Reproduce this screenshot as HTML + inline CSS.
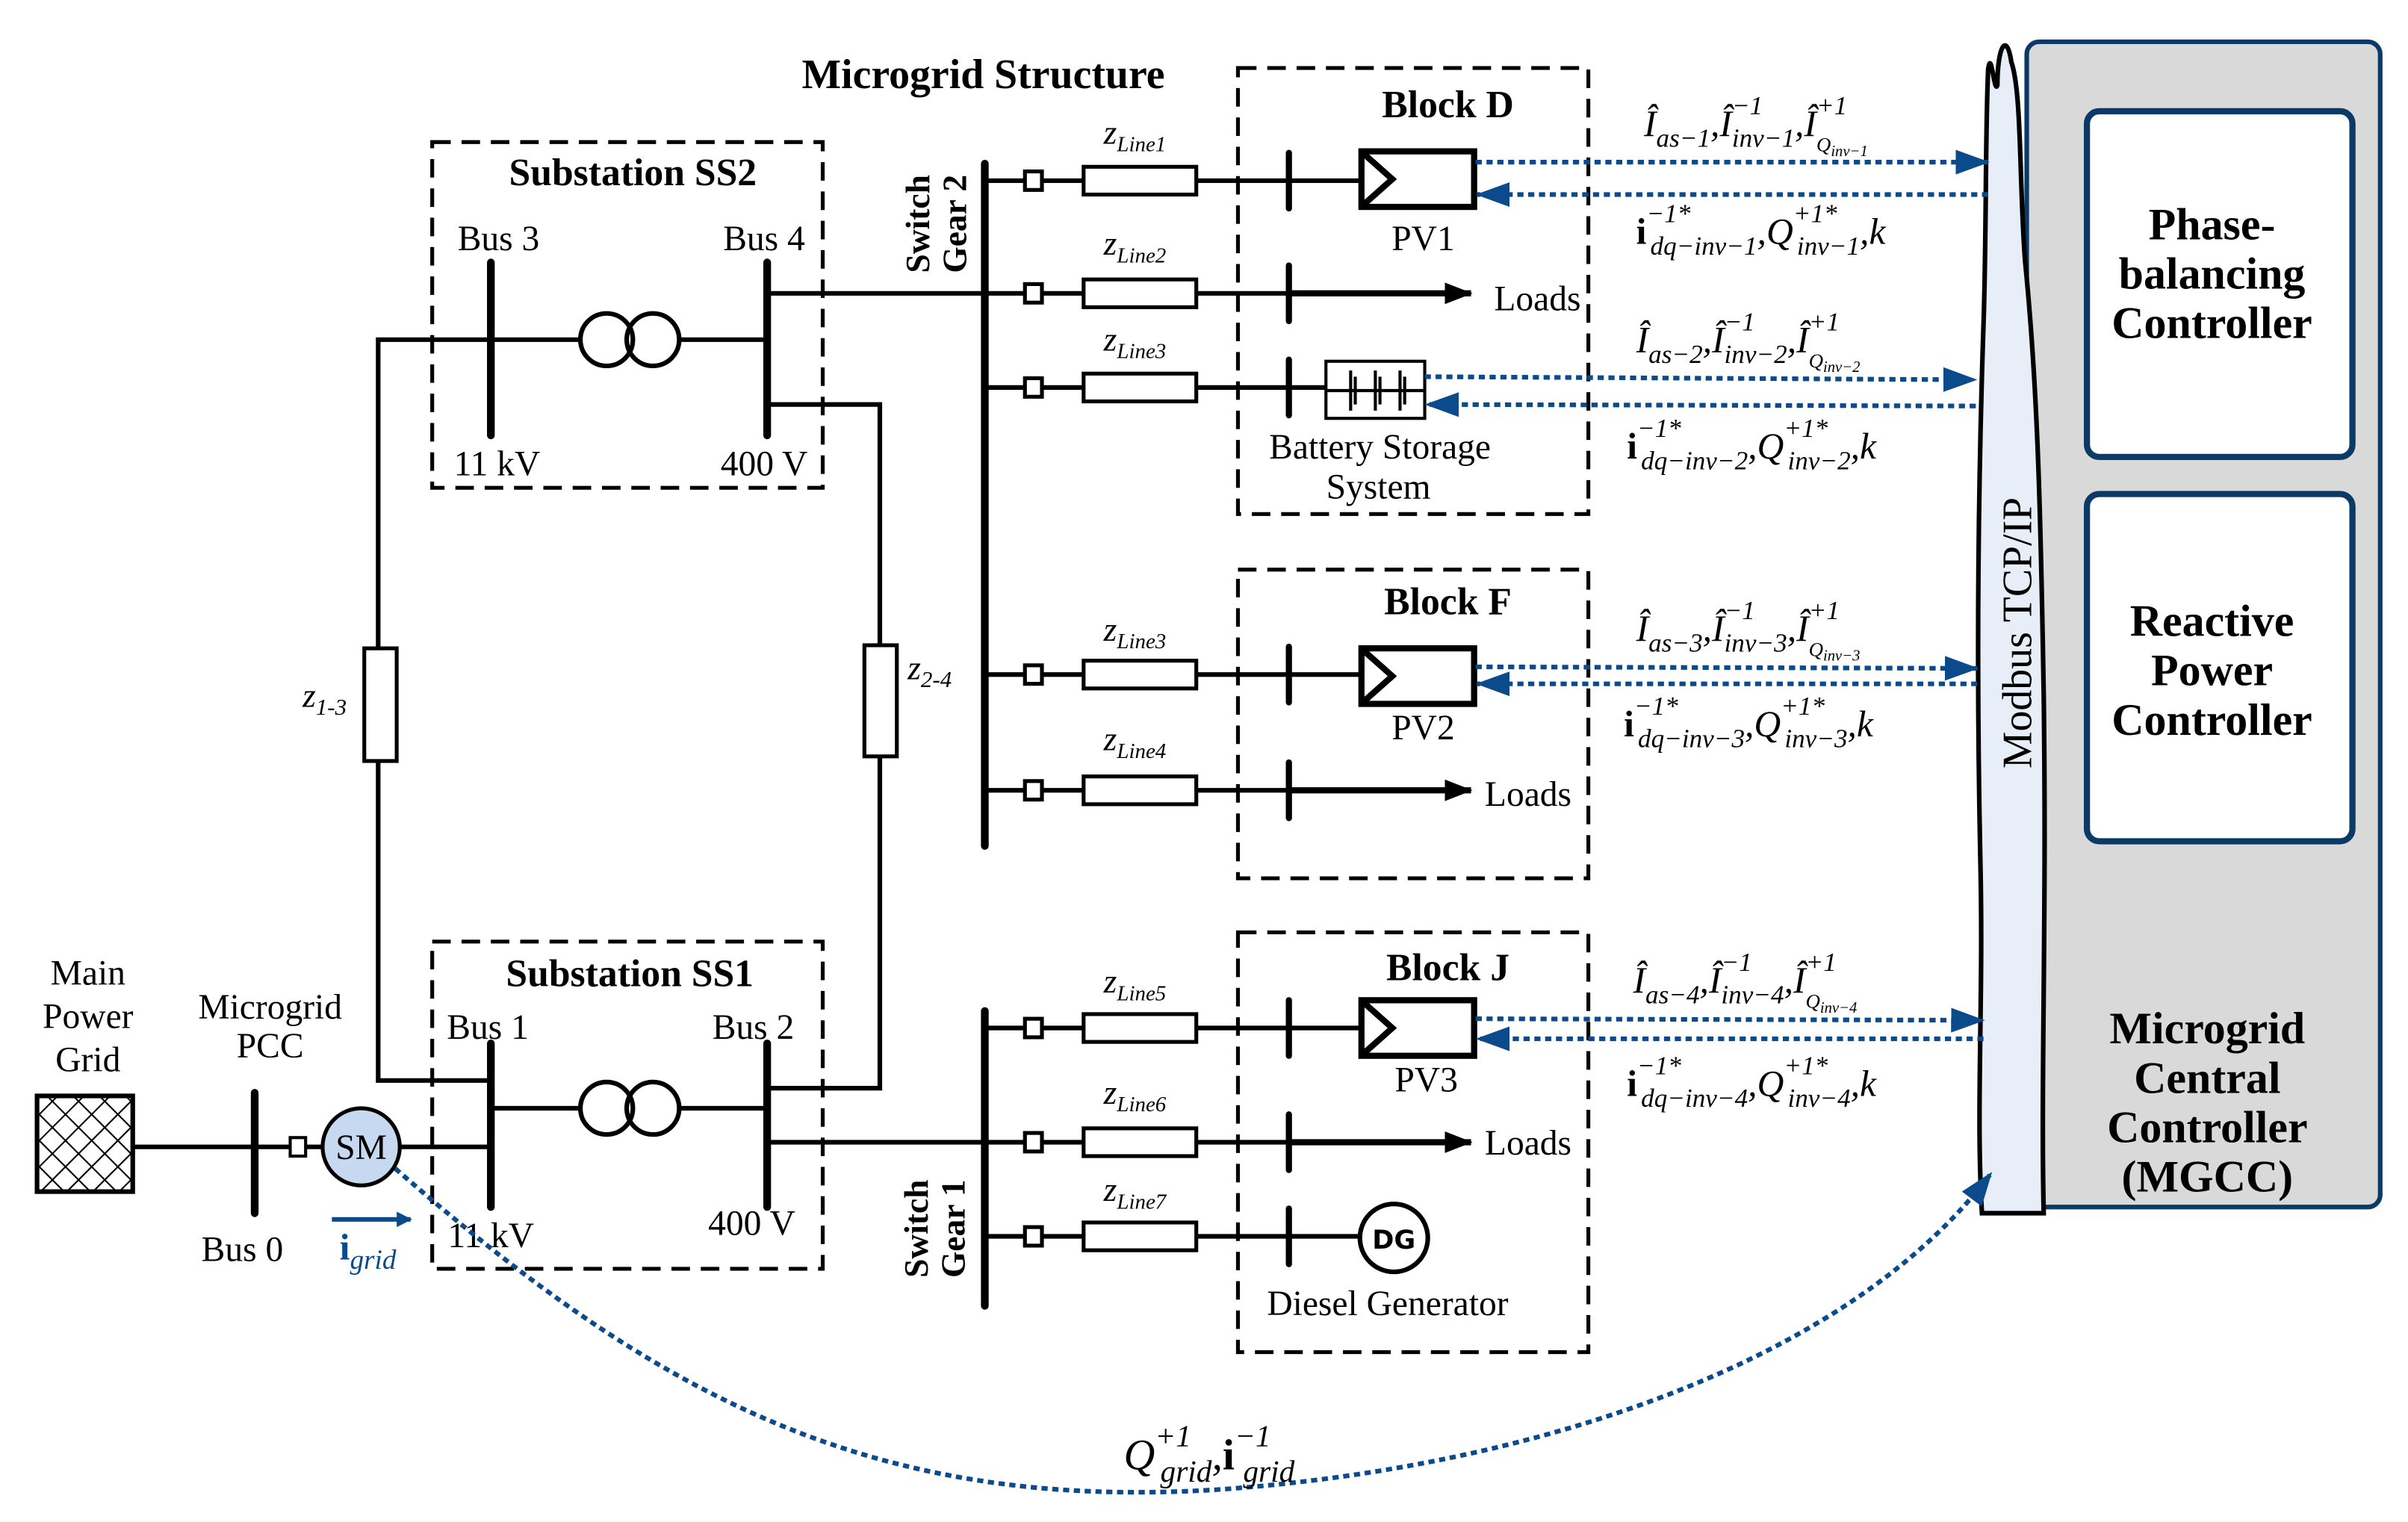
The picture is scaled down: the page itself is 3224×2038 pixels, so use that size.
<!DOCTYPE html>
<html><head><meta charset="utf-8"><style>
html,body{margin:0;padding:0;background:#fff}
svg{display:block}
text{font-family:"Liberation Serif",serif;fill:#000}
.t{font-size:23px}
.bt{font-size:25px;font-weight:bold}
.b{fill:#0b4a8b;font-style:italic;font-size:24px}
.z{font-style:italic;font-size:22px}
</style></head><body>
<svg width="3224" height="2038" viewBox="0 0 1560 986" xmlns="http://www.w3.org/2000/svg">
<defs>
<pattern id="h" width="12" height="12" patternUnits="userSpaceOnUse" patternTransform="rotate(45)">
<line x1="0" y1="0" x2="0" y2="12" stroke="#000" stroke-width="2"/><line x1="0" y1="0" x2="12" y2="0" stroke="#000" stroke-width="2"/></pattern>
<marker id="ab" markerWidth="10" markerHeight="10" refX="9" refY="5" orient="auto" markerUnits="userSpaceOnUse"><path d="M0,0 L10,5 L0,10 Z" fill="#0b4a8b"/></marker>
<marker id="ak" markerWidth="18" markerHeight="14" refX="17" refY="7" orient="auto" markerUnits="userSpaceOnUse"><path d="M0,0 L18,7 L0,14 Z" fill="#000"/></marker>
<marker id="abl" markerWidth="22" markerHeight="16" refX="21" refY="8" orient="auto" markerUnits="userSpaceOnUse"><path d="M0,0 L22,8 L0,16 Z" fill="#0b4a8b"/></marker>
</defs>

<!-- MGCC panel + cloud -->
<rect x="1313" y="27" width="229" height="755" rx="8" fill="#d9d9d9" stroke="#0b3a66" stroke-width="3"/>
<path d="M1303,40 C1300,20 1294,30 1294,55 C1292,62 1290,30 1288,45 C1286,90 1287,150 1285,210 C1282,300 1280,420 1283,560 C1285,650 1280,720 1284,786 L1324,786 C1322,700 1326,600 1324,450 C1322,330 1320,250 1312,170 C1308,120 1310,60 1303,40 Z" fill="#e8eef7" stroke="#000" stroke-width="3"/>
<rect x="1352" y="72" width="172" height="224" rx="8" fill="#fff" stroke="#0b3a66" stroke-width="4"/>
<rect x="1352" y="320" width="172" height="225" rx="8" fill="#fff" stroke="#0b3a66" stroke-width="4"/>
<g class="bt" text-anchor="middle" style="font-size:29px">
<text x="1433" y="155">Phase-</text><text x="1433" y="187">balancing</text><text x="1433" y="219">Controller</text>
<text x="1433" y="412">Reactive</text><text x="1433" y="444">Power</text><text x="1433" y="476">Controller</text>
<text x="1430" y="676">Microgrid</text><text x="1430" y="708">Central</text><text x="1430" y="740">Controller</text><text x="1430" y="772">(MGCC)</text>
</g>
<text x="0" y="0" transform="translate(1316,410) rotate(-90)" text-anchor="middle" style="font-size:27px">Modbus TCP/IP</text>

<!-- titles -->
<text x="637" y="57" text-anchor="middle" class="bt" style="font-size:27px">Microgrid Structure</text>

<!-- dashed boxes -->
<g fill="none" stroke="#000" stroke-width="2.5" stroke-dasharray="12,7">
<rect x="280" y="92" width="253" height="224"/>
<rect x="280" y="610" width="253" height="212"/>
<rect x="802" y="44" width="227" height="289"/>
<rect x="802" y="369" width="227" height="200"/>
<rect x="802" y="604" width="227" height="272"/>
</g>
<g class="bt" text-anchor="middle">
<text x="410" y="120">Substation SS2</text>
<text x="408" y="639">Substation SS1</text>
<text x="938" y="76">Block D</text>
<text x="938" y="398">Block F</text>
<text x="938" y="635">Block J</text>
</g>

<!-- lines -->
<g stroke="#000" stroke-width="3" fill="none">
<polyline points="318,220 245,220 245,420"/>
<polyline points="245,493 245,700 318,700"/>
<polyline points="497,262 570,262 570,418"/>
<polyline points="570,490 570,705 497,705"/>
<line x1="318" y1="220" x2="376" y2="220"/><line x1="440" y1="220" x2="497" y2="220"/>
<line x1="318" y1="718" x2="376" y2="718"/><line x1="440" y1="718" x2="497" y2="718"/>
<line x1="497" y1="190" x2="638" y2="190"/>
<line x1="497" y1="740" x2="638" y2="740"/>
<line x1="86" y1="743" x2="318" y2="743"/>
<circle cx="393" cy="220" r="17"/><circle cx="423" cy="220" r="17"/>
<circle cx="393" cy="718" r="17"/><circle cx="423" cy="718" r="17"/>
</g>
<rect x="236" y="420" width="21" height="73" fill="#fff" stroke="#000" stroke-width="2.5"/>
<rect x="560" y="418" width="21" height="72" fill="#fff" stroke="#000" stroke-width="2.5"/>
<g stroke="#000" stroke-width="5" stroke-linecap="round">
<line x1="318" y1="170" x2="318" y2="282"/><line x1="497" y1="170" x2="497" y2="282"/>
<line x1="318" y1="676" x2="318" y2="782"/><line x1="497" y1="676" x2="497" y2="782"/>
<line x1="638" y1="106" x2="638" y2="548"/><line x1="638" y1="655" x2="638" y2="846"/>
<line x1="165" y1="708" x2="165" y2="786"/>
</g>
<g class="t" text-anchor="middle">
<text x="323" y="162">Bus 3</text><text x="495" y="162">Bus 4</text>
<text x="322" y="308">11 kV</text><text x="495" y="308">400 V</text>
<text x="316" y="673">Bus 1</text><text x="488" y="673">Bus 2</text>
<text x="318" y="808">11 kV</text><text x="487" y="800">400 V</text>
<text x="57" y="638">Main</text><text x="57" y="666">Power</text><text x="57" y="694">Grid</text>
<text x="175" y="660">Microgrid</text><text x="175" y="685">PCC</text>
<text x="157" y="817">Bus 0</text>
</g>
<text x="196" y="458" class="z">z<tspan font-size="15" dy="5">1-3</tspan></text>
<text x="588" y="440" class="z">z<tspan font-size="15" dy="5">2-4</tspan></text>

<rect x="24" y="710" width="62" height="62" fill="url(#h)" stroke="#000" stroke-width="3"/>
<rect x="188" y="737" width="10" height="12" fill="#fff" stroke="#000" stroke-width="2"/>
<circle cx="234" cy="743" r="25" fill="#c6d9f0" stroke="#000" stroke-width="2.5"/>
<text x="234" y="751" text-anchor="middle" class="t">SM</text>
<line x1="215" y1="790" x2="266" y2="790" stroke="#0b4a8b" stroke-width="3" marker-end="url(#ab)"/>
<text x="220" y="816" class="b" style="font-weight:bold;font-style:normal">i<tspan font-size="18" font-style="italic" font-weight="normal" dy="6">grid</tspan></text>

<!-- switch gear labels -->
<g class="bt" style="font-size:22px" text-anchor="middle">
<text transform="translate(602,145) rotate(-90)">Switch</text>
<text transform="translate(626,145) rotate(-90)">Gear 2</text>
<text transform="translate(601,796) rotate(-90)">Switch</text>
<text transform="translate(625,796) rotate(-90)">Gear 1</text>
</g>

<!-- feeders -->
<g>
<g stroke="#000" stroke-width="3">
<line x1="638" y1="117" x2="882" y2="117"/>
<line x1="638" y1="190" x2="835" y2="190"/>
<line x1="638" y1="251" x2="859" y2="251"/>
<line x1="638" y1="437" x2="882" y2="437"/>
<line x1="638" y1="512" x2="835" y2="512"/>
<line x1="638" y1="666" x2="882" y2="666"/>
<line x1="638" y1="740" x2="835" y2="740"/>
<line x1="638" y1="801" x2="881" y2="801"/>
<line x1="835" y1="190" x2="953" y2="190" stroke-width="4" marker-end="url(#ak)"/>
<line x1="835" y1="512" x2="953" y2="512" stroke-width="4" marker-end="url(#ak)"/>
<line x1="835" y1="740" x2="953" y2="740" stroke-width="4" marker-end="url(#ak)"/>
</g>
<g fill="#fff" stroke="#000" stroke-width="2.5">
<rect x="664" y="111" width="11" height="12"/><rect x="702" y="108" width="73" height="18"/>
<rect x="664" y="184" width="11" height="12"/><rect x="702" y="181" width="73" height="18"/>
<rect x="664" y="245" width="11" height="12"/><rect x="702" y="242" width="73" height="18"/>
<rect x="664" y="431" width="11" height="12"/><rect x="702" y="428" width="73" height="18"/>
<rect x="664" y="506" width="11" height="12"/><rect x="702" y="503" width="73" height="18"/>
<rect x="664" y="660" width="11" height="12"/><rect x="702" y="657" width="73" height="18"/>
<rect x="664" y="734" width="11" height="12"/><rect x="702" y="731" width="73" height="18"/>
<rect x="664" y="795" width="11" height="12"/><rect x="702" y="792" width="73" height="18"/>
</g>
<g stroke="#000" stroke-width="4" stroke-linecap="round">
<line x1="835" y1="99" x2="835" y2="135"/><line x1="835" y1="172" x2="835" y2="208"/>
<line x1="835" y1="233" x2="835" y2="269"/><line x1="835" y1="419" x2="835" y2="455"/>
<line x1="835" y1="494" x2="835" y2="530"/><line x1="835" y1="648" x2="835" y2="684"/>
<line x1="835" y1="722" x2="835" y2="758"/><line x1="835" y1="783" x2="835" y2="819"/>
</g>
<g class="z">
<text x="715" y="93">z<tspan font-size="14" dy="5">Line1</tspan></text>
<text x="715" y="165">z<tspan font-size="14" dy="5">Line2</tspan></text>
<text x="715" y="227">z<tspan font-size="14" dy="5">Line3</tspan></text>
<text x="715" y="415">z<tspan font-size="14" dy="5">Line3</tspan></text>
<text x="715" y="486">z<tspan font-size="14" dy="5">Line4</tspan></text>
<text x="715" y="643">z<tspan font-size="14" dy="5">Line5</tspan></text>
<text x="715" y="715">z<tspan font-size="14" dy="5">Line6</tspan></text>
<text x="715" y="778">z<tspan font-size="14" dy="5">Line7</tspan></text>
</g>
</g>

<!-- PV boxes -->
<g fill="#fff" stroke="#000" stroke-width="4">
<rect x="882" y="98" width="73" height="36"/>
<rect x="882" y="420" width="73" height="36"/>
<rect x="882" y="648" width="73" height="36"/>
</g>
<g fill="none" stroke="#000" stroke-width="4">
<polyline points="884,100 902,116 884,132"/>
<polyline points="884,422 902,438 884,454"/>
<polyline points="884,650 902,666 884,682"/>
</g>
<g class="t" text-anchor="middle">
<text x="922" y="162">PV1</text><text x="922" y="479">PV2</text><text x="924" y="707">PV3</text>
<text x="996" y="201">Loads</text><text x="990" y="522">Loads</text><text x="990" y="748">Loads</text>
<text x="894" y="297">Battery Storage</text><text x="893" y="323">System</text>
<text x="899" y="852">Diesel Generator</text>
</g>
<!-- battery -->
<rect x="859" y="234" width="64" height="37" fill="#fff" stroke="#000" stroke-width="2"/>
<g stroke="#000" stroke-width="2"><line x1="859" y1="253" x2="923" y2="253"/>
<line x1="875" y1="240" x2="875" y2="266"/><line x1="878" y1="244" x2="878" y2="262"/>
<line x1="891" y1="240" x2="891" y2="266"/><line x1="894" y1="244" x2="894" y2="262"/>
<line x1="907" y1="240" x2="907" y2="266"/><line x1="910" y1="244" x2="910" y2="262"/></g>
<!-- DG -->
<circle cx="903" cy="802" r="22" fill="#fff" stroke="#000" stroke-width="3"/>
<text x="903" y="809" text-anchor="middle" style="font-family:'DejaVu Sans',sans-serif;font-weight:bold;font-size:17px">DG</text>

<!-- blue comm arrows -->
<g stroke="#0b4a8b" stroke-width="3" stroke-dasharray="4,3" fill="none">
<line x1="956" y1="105" x2="1288" y2="105" marker-end="url(#abl)"/>
<line x1="1288" y1="126" x2="957" y2="126" marker-end="url(#abl)"/>
<line x1="923" y1="244" x2="1280" y2="246" marker-end="url(#abl)"/>
<line x1="1280" y1="263" x2="924" y2="262" marker-end="url(#abl)"/>
<line x1="956" y1="432" x2="1281" y2="433" marker-end="url(#abl)"/>
<line x1="1281" y1="443" x2="957" y2="443" marker-end="url(#abl)"/>
<line x1="956" y1="660" x2="1285" y2="661" marker-end="url(#abl)"/>
<line x1="1285" y1="673" x2="957" y2="673" marker-end="url(#abl)"/>
<path d="M256,757 C420,900 560,980 790,965 C1000,950 1200,880 1290,760" marker-end="url(#abl)"/>
</g>

<!-- blue labels -->
<g class="b">
<text x="1065" y="88">Î<tspan font-size="17" dy="7">as−1</tspan><tspan dy="-7">,Î</tspan><tspan font-size="17" dy="-14">−1</tspan><tspan font-size="17" dx="-20" dy="21">inv−1</tspan><tspan dy="-7">,Î</tspan><tspan font-size="17" dy="-14">+1</tspan><tspan font-size="13" dx="-20" dy="24">Q</tspan><tspan font-size="10" dy="3">inv−1</tspan></text>
<text x="1060" y="158"><tspan font-weight="bold" font-style="normal">i</tspan><tspan font-size="17" dy="-14">−1*</tspan><tspan font-size="17" dx="-26" dy="21">dq−inv−1</tspan><tspan dy="-7">,Q</tspan><tspan font-size="17" dy="-14">+1*</tspan><tspan font-size="17" dx="-26" dy="21">inv−1</tspan><tspan dy="-7">,k</tspan></text>
<text x="1060" y="228">Î<tspan font-size="17" dy="7">as−2</tspan><tspan dy="-7">,Î</tspan><tspan font-size="17" dy="-14">−1</tspan><tspan font-size="17" dx="-20" dy="21">inv−2</tspan><tspan dy="-7">,Î</tspan><tspan font-size="17" dy="-14">+1</tspan><tspan font-size="13" dx="-20" dy="24">Q</tspan><tspan font-size="10" dy="3">inv−2</tspan></text>
<text x="1054" y="297"><tspan font-weight="bold" font-style="normal">i</tspan><tspan font-size="17" dy="-14">−1*</tspan><tspan font-size="17" dx="-26" dy="21">dq−inv−2</tspan><tspan dy="-7">,Q</tspan><tspan font-size="17" dy="-14">+1*</tspan><tspan font-size="17" dx="-26" dy="21">inv−2</tspan><tspan dy="-7">,k</tspan></text>
<text x="1060" y="415">Î<tspan font-size="17" dy="7">as−3</tspan><tspan dy="-7">,Î</tspan><tspan font-size="17" dy="-14">−1</tspan><tspan font-size="17" dx="-20" dy="21">inv−3</tspan><tspan dy="-7">,Î</tspan><tspan font-size="17" dy="-14">+1</tspan><tspan font-size="13" dx="-20" dy="24">Q</tspan><tspan font-size="10" dy="3">inv−3</tspan></text>
<text x="1052" y="477"><tspan font-weight="bold" font-style="normal">i</tspan><tspan font-size="17" dy="-14">−1*</tspan><tspan font-size="17" dx="-26" dy="21">dq−inv−3</tspan><tspan dy="-7">,Q</tspan><tspan font-size="17" dy="-14">+1*</tspan><tspan font-size="17" dx="-26" dy="21">inv−3</tspan><tspan dy="-7">,k</tspan></text>
<text x="1058" y="643">Î<tspan font-size="17" dy="7">as−4</tspan><tspan dy="-7">,Î</tspan><tspan font-size="17" dy="-14">−1</tspan><tspan font-size="17" dx="-20" dy="21">inv−4</tspan><tspan dy="-7">,Î</tspan><tspan font-size="17" dy="-14">+1</tspan><tspan font-size="13" dx="-20" dy="24">Q</tspan><tspan font-size="10" dy="3">inv−4</tspan></text>
<text x="1054" y="710"><tspan font-weight="bold" font-style="normal">i</tspan><tspan font-size="17" dy="-14">−1*</tspan><tspan font-size="17" dx="-26" dy="21">dq−inv−4</tspan><tspan dy="-7">,Q</tspan><tspan font-size="17" dy="-14">+1*</tspan><tspan font-size="17" dx="-26" dy="21">inv−4</tspan><tspan dy="-7">,k</tspan></text>
<text x="728" y="952" style="font-size:28px">Q<tspan font-size="20" dy="-15">+1</tspan><tspan font-size="20" dx="-20" dy="23">grid</tspan><tspan dy="-8">,</tspan><tspan font-weight="bold" font-style="normal">i</tspan><tspan font-size="20" dy="-15">−1</tspan><tspan font-size="20" dx="-18" dy="23">grid</tspan></text>
</g>
</svg>
</body></html>
